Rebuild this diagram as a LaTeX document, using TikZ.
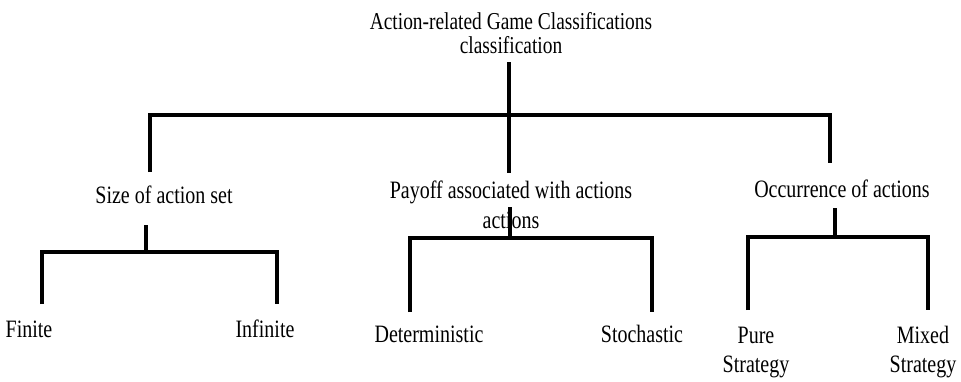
\documentclass[tikz,border=0pt]{standalone}
\usepackage{fontspec}
\setmainfont{Liberation Serif}
\begin{document}
\begin{tikzpicture}[x=1bp,y=-1bp,
  lbl/.style={inner sep=0pt, anchor=base, transform shape, yscale=1.25, align=center,
              font=\fontsize{20bp}{24bp}\selectfont},
  link/.style={line width=3.1bp, line join=miter}]
\useasboundingbox (0,0) rectangle (961,381);

% labels (multi-line labels sit on the baseline of their last line)
\node[lbl, font=\fontsize{19.4bp}{19.2bp}\selectfont] (root) at (511,53)
  {Action-related Game Classifications\\classification};
\node[lbl] (size) at (164,203) {Size of action set};
\node[lbl] (payoff) at (511,228) {Payoff associated with actions\\actions};
\node[lbl] (occ) at (842,197) {Occurrence of actions};
\node[lbl] (finite) at (29,337) {Finite};
\node[lbl] (infinite) at (265,337) {Infinite};
\node[lbl] (det) at (429,342) {Deterministic};
\node[lbl] (sto) at (642,342) {Stochastic};
\node[lbl, font=\fontsize{20bp}{23.2bp}\selectfont] (pure) at (756,372) {Pure\\Strategy};
\node[lbl, font=\fontsize{20bp}{23.2bp}\selectfont] (mixed) at (923,372) {Mixed\\Strategy};

% junction points of the tree
\coordinate (r0) at (509,62);
\coordinate (r1) at (509,115);
\coordinate (ra) at (150,115);
\coordinate (rb) at (830,115);
\coordinate (sa) at (150,172);
\coordinate (sb) at (509,173);
\coordinate (sc) at (830,163);

\coordinate (s0) at (146,225);
\coordinate (s1) at (146,252);
\coordinate (sl) at (42,252);
\coordinate (sr) at (277,252);
\coordinate (fl) at (42,304);
\coordinate (fr) at (277,304);

\coordinate (p0) at (510,207);
\coordinate (p1) at (510,238);
\coordinate (pl) at (410,238);
\coordinate (pr) at (652,238);
\coordinate (dl) at (410,312);
\coordinate (dr) at (652,312);

\coordinate (o0) at (835,208);
\coordinate (o1) at (835,237);
\coordinate (ol) at (748,237);
\coordinate (or) at (928,237);
\coordinate (ml) at (748,310);
\coordinate (mr) at (928,310);

% connectors
\draw[link] (r0) -- (r1);
\draw[link] (sa) -- (ra) -- (rb) -- (sc);
\draw[link] (r1) -- (sb);

\draw[link] (s0) -- (s1);
\draw[link] (fl) -- (sl) -- (sr) -- (fr);

\draw[link] (p0) -- (p1);
\draw[link] (dl) -- (pl) -- (pr) -- (dr);

\draw[link] (o0) -- (o1);
\draw[link] (ml) -- (ol) -- (or) -- (mr);
\end{tikzpicture}
\end{document}
